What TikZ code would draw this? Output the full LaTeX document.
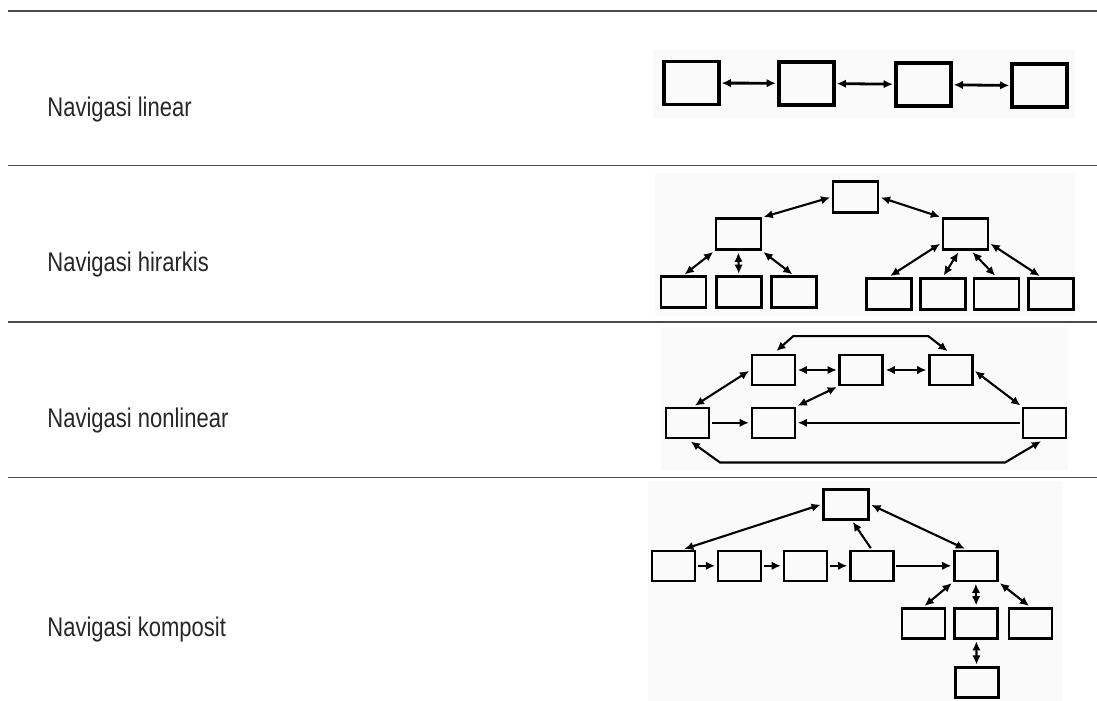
\documentclass[tikz,border=0pt]{standalone}
\usepackage{fontspec}
\setmainfont{Liberation Sans}[FakeStretch=0.815]
\usetikzlibrary{positioning,calc,arrows.meta}

\begin{document}
\begin{tikzpicture}[x=0.5pt, y=-0.5pt, >={Latex[length=4.6pt,width=4.2pt]}]
	\useasboundingbox (0,0) rectangle (1097,701);

	% scanned backgrounds
	\fill [black!2] (652.7,50) rectangle (1075,118.3);
	\fill [black!2] (655,173) rectangle (1075,316);
	\fill [black!2] (661,327) rectangle (1068,470);
	\fill [black!2] (648,481) rectangle (1062,701);

	% rules
	\begin{scope}[black!70, line width=0.65pt]
		\draw (8.3,11) -- (1097,11);
		\draw (8.3,165.7) -- (1097,165.7);
		\draw (8.3,322) -- (1097,322);
		\draw (8.3,477.3) -- (1097,477.3);
	\end{scope}

	% labels
	\begin{scope}
		\tikzstyle{every node}=[anchor=base west, inner sep=0pt, text=black!85, font=\fontsize{13.5pt}{16pt}\selectfont]
		\node (tlin) at (47,116.7) {Navigasi linear};
		\node (thir) at (47,271.7) {Navigasi hirarkis};
		\node (tnon) at (47,427.7) {Navigasi nonlinear};
		\node (tkom) at (47,636.7) {Navigasi komposit};
	\end{scope}

	% linear
	\begin{scope}[line width=1.4pt, shorten >=0.5pt, shorten <=0.5pt]
		\tikzstyle{every node}=[draw, line width=1.9pt, minimum width=27.5pt, minimum height=21.5pt, inner sep=0pt]
		\node (l1) at (691.2,83) {};
		\node (l2) at (806.3,83.3) {};
		\node (l3) at (923.3,84.5) {};
		\node (l4) at (1039.7,85.8) {};

		\draw [<->] (l1) to (l2);
		\draw [<->] (l2) to (l3);
		\draw [<->] (l3) to (l4);
	\end{scope}

	% hirarkis
	\begin{scope}[line width=1.05pt, shorten >=0.8pt, shorten <=0.8pt]
		\tikzstyle{every node}=[draw, line width=1.3pt, minimum width=22.5pt, minimum height=15.5pt, inner sep=0pt]
		\node (top) at (855.5,197) {};
		\node (hl) at (738.3,234.2) {};
		\node (hr) at (965.3,234.2) {};
		\node (c1) at (683.3,292.2) {};
		\node (c2) at (738.8,292.2) {};
		\node (c3) at (793.7,292.2) {};
		\node (r1) at (888.8,293.7) {};
		\node (r2) at (942.8,293.7) {};
		\node (r3) at (996.3,293.7) {};
		\node (r4) at (1050.8,293.7) {};

		\draw [<->] (top.west) to (hl.north east);
		\draw [<->] (top.east) to (hr.north west);
		\draw [<->] (hl.south west) to (c1.north);
		\draw [<->] (hl.south) to (c2.north);
		\draw [<->] (hl.south east) to (c3.north);
		\draw [<->] (hr.200) to (r1.north);
		\draw [<->] (hr.250) to (r2.north);
		\draw [<->] (hr.290) to (r3.north);
		\draw [<->] (hr.340) to (r4.120);
	\end{scope}

	% nonlinear
	\begin{scope}[line width=1.05pt, shorten >=0.8pt, shorten <=0.8pt]
		\tikzstyle{every node}=[draw, line width=1.3pt, minimum width=21.5pt, minimum height=15pt, inner sep=0pt]
		\node (n1) at (773.3,370) {};
		\node (n2) at (861.2,370) {};
		\node (n3) at (950.8,370) {};
		\node (n4) at (687.5,422.8) {};
		\node (n5) at (773.3,422.8) {};
		\node (n6) at (1044.5,422.8) {};

		\draw [<->] (n1) to (n2);
		\draw [<->] (n2) to (n3);
		\draw [<->] (n4.70) to (n1.west);
		\draw [<->] (n5.north east) to (n2.south west);
		\draw [<->] (n3.east) to (n6.north west);
		\draw [->] (n4) to (n5);
		\draw [->] (n6) to (n5);
		\draw [<->, shorten >=2pt, shorten <=2pt] (n1.north) -- ($(n1.north)+(20,-17.6)$) -- ($(n3.north)+(-22.5,-17.6)$) -- (n3.north);
		\draw [<->, shorten >=2pt, shorten <=2pt] (n4.south) -- ($(n4.south)+(32.5,23.4)$) -- ($(n6.south)+(-39.5,23.4)$) -- (n6.south);
	\end{scope}

	% komposit
	\begin{scope}[line width=1.05pt, shorten >=0.8pt, shorten <=0.8pt]
		\tikzstyle{every node}=[draw, line width=1.3pt, minimum width=21.5pt, minimum height=15pt, inner sep=0pt]
		\node [minimum width=22.5pt] (t) at (846,504.2) {};
		\node (k1) at (673.3,565.8) {};
		\node (k2) at (739.5,565.8) {};
		\node (k3) at (805.3,565.8) {};
		\node (k4) at (871.7,565.8) {};
		\node (h) at (975.8,565.8) {};
		\node (d1) at (923.3,623.3) {};
		\node (d2) at (976.2,623.3) {};
		\node (d3) at (1030.3,623.3) {};
		\node (e) at (976.7,682.5) {};

		\draw [<->] (t.west) to (k1.60);
		\draw [<->] (t.east) to (h.120);
		\draw [->] (k4.north) to (t.290);
		\draw [->] (k1) to (k2);
		\draw [->] (k2) to (k3);
		\draw [->] (k3) to (k4);
		\draw [->] (k4) to (h);
		\draw [<->] (h.south west) to (d1.north);
		\draw [<->] (h.south) to (d2.north);
		\draw [<->] (h.south east) to (d3.north);
		\draw [<->] (d2) to (e);
	\end{scope}
\end{tikzpicture}
\end{document}
